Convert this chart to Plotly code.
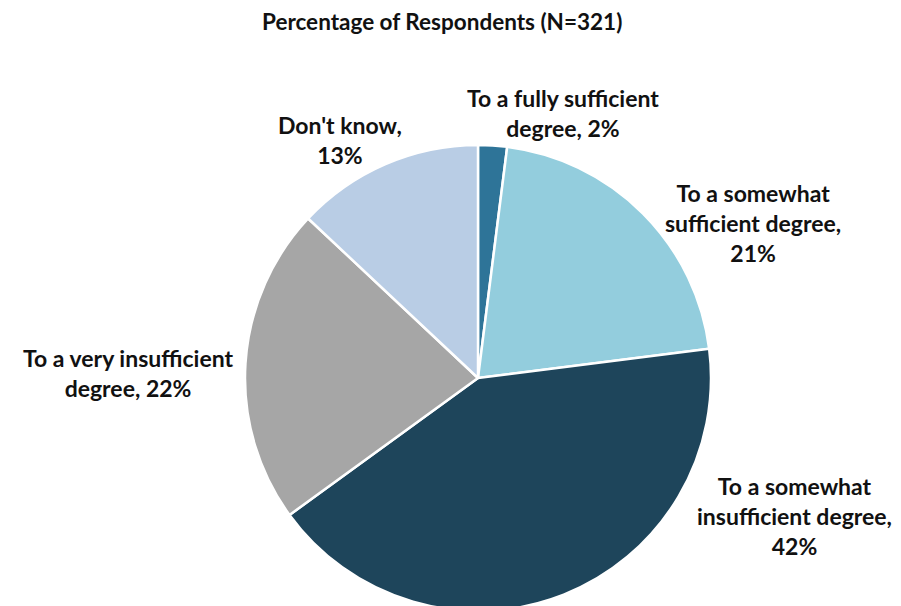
import plotly.graph_objects as go

categories = ["To a fully sufficient degree", "To a somewhat sufficient degree",
              "To a somewhat insufficient degree", "To a very insufficient degree", "Don't know"]
values = [2, 21, 42, 22, 13]
colors = ["#2E7498", "#93CDDD", "#1E455B", "#A6A6A6", "#B9CDE5"]
label_lines = [
    ["To a fully sufficient", "degree, {v}%"],
    ["To a somewhat", "sufficient degree,", "{v}%"],
    ["To a somewhat", "insufficient degree,", "{v}%"],
    ["To a very insufficient", "degree, {v}%"],
    ["Don't know,", "{v}%"],
]
title = "Percentage of Respondents (N=321)"

OFF = 8  # page body margin
W, H = 893, 606
cx, cy, r = 478 - OFF, 378 - OFF, 233

fig = go.Figure(go.Pie(
    labels=categories, values=values, sort=False, direction="clockwise", rotation=0,
    marker=dict(colors=colors, line=dict(color="white", width=2.5)),
    textinfo="none", hoverinfo="label+percent", showlegend=False,
    domain=dict(x=[(cx - r) / W, (cx + r) / W], y=[(H - cy - r) / H, (H - cy + r) / H]),
))

# label centre positions (reference pixels)
pos = [(563, 113), (753, 223), (794, 516), (128, 373), (340, 140)]
for lines, v, (px, py) in zip(label_lines, values, pos):
    txt = "<br>".join(l.format(v=v) for l in lines)
    fig.add_annotation(x=(px - OFF) / W, y=1 - (py - OFF) / H, xref="paper", yref="paper",
                       text=txt, showarrow=False, xanchor="center", yanchor="middle",
                       font=dict(family="Lato", size=23, color="#111111", weight="bold"))

fig.add_annotation(x=(442 - OFF) / W, y=1 - (22 - OFF) / H, xref="paper", yref="paper", text=title,
                   showarrow=False, xanchor="center", yanchor="middle",
                   font=dict(family="Lato", size=22.5, color="#111111", weight="bold"))

fig.update_layout(width=W, height=H, margin=dict(l=0, r=0, t=0, b=0),
                  paper_bgcolor="white", plot_bgcolor="white")
fig.write_html("out.html")
